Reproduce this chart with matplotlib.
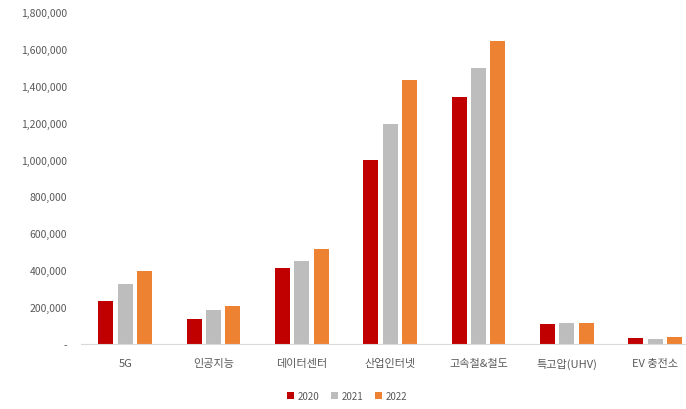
import numpy as np
import matplotlib.pyplot as plt
from matplotlib.ticker import FuncFormatter

plt.rcParams['font.family'] = ['Noto Sans CJK KR', 'DejaVu Sans']

# Data
categories = ['5G', '인공지능', '데이터센터', '산업인터넷', '고속철&철도', '특고압(UHV)', 'EV 충전소']
years = ['2020', '2021', '2022']
v2020 = [232000, 135000, 411000, 995000, 1340000, 108000, 32000]
v2021 = [324000, 184000, 449000, 1195000, 1497000, 113000, 27000]
v2022 = [395000, 205000, 514000, 1432000, 1643000, 113000, 38000]
yticks = [0, 200000, 400000, 600000, 800000, 1000000, 1200000, 1400000, 1600000, 1800000]

colors = ['#C00000', '#BDBDBD', '#EE8233']

fig = plt.figure(figsize=(6.86, 4.10), dpi=100)
ax = fig.add_axes([81 / 686, 1 - 345 / 410, 1 - 81 / 686, (345 - 13) / 410])

x = np.arange(len(categories))
w = 0.17
step = 0.22
for i, (vals, yr) in enumerate(zip([v2020, v2021, v2022], years)):
    ax.bar(x + (i - 1) * step, vals, width=w, color=colors[i], label=yr)

ax.set_xlim(-0.5, 6.35)
ax.set_ylim(0, 1800000)
ax.set_yticks(yticks)
ax.yaxis.set_major_formatter(FuncFormatter(lambda v, p: '-' if v == 0 else f'{int(v):,}'))
ax.set_xticks(x)
ax.set_xticklabels(categories)
ax.tick_params(axis='both', length=0, colors='#595959')
ax.tick_params(axis='y', labelsize=7.5, pad=10)
ax.tick_params(axis='x', labelsize=8, pad=10)

for s in ['top', 'right', 'left']:
    ax.spines[s].set_visible(False)
ax.spines['bottom'].set_color('#D9D9D9')
ax.spines['bottom'].set_linewidth(0.8)

fig.legend(loc='center', bbox_to_anchor=(347 / 686, 1 - 397 / 410), ncol=3,
           frameon=False, fontsize=7, handlelength=0.7, handleheight=0.7,
           columnspacing=1.2, handletextpad=0.4, labelcolor='#595959')

fig.savefig('out.png', dpi=100)
